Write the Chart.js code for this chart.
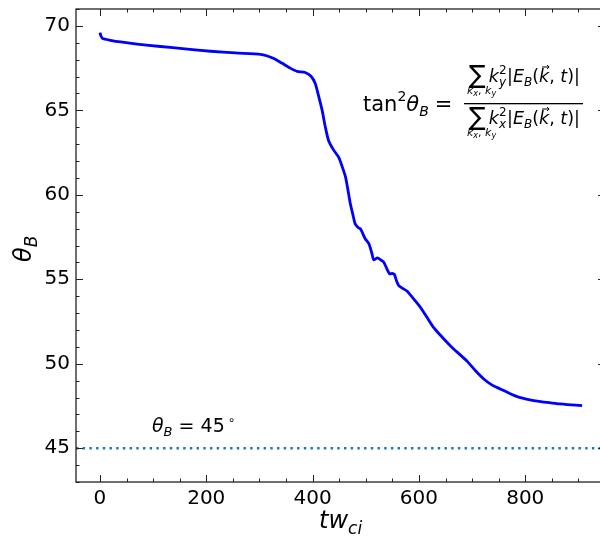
<!DOCTYPE html>
<html>
<head>
<meta charset="utf-8">
<script src="https://cdn.jsdelivr.net/npm/chart.js@4.4.1/dist/chart.umd.min.js"></script>
<style>
  html, body { margin: 0; padding: 0; background: #fff; overflow: hidden; }
  #wrap { width: 610px; height: 538px; position: relative; }
</style>
</head>
<body>
<div id="wrap"><canvas id="theta" width="610" height="538"></canvas></div>
<script>
// time axis (t w_ci) and magnetic angle theta_B in degrees
const times = [0, 2, 5, 20, 39, 70, 114, 160, 208, 255, 302, 315, 327, 342, 358, 371, 386, 397,
  405, 411, 418, 424, 430, 440, 449, 456, 462, 467, 471, 476, 480, 486, 490, 499, 506, 511, 515,
  522, 528, 534, 540, 545, 550, 554, 558, 562, 570, 578, 590, 600, 609, 625, 640, 659, 675, 691,
  706, 722, 737, 753, 770, 785, 800, 816, 832, 848, 865, 879, 895, 907]
const thetaB = [69.6, 69.4, 69.25, 69.15, 69.05, 68.92, 68.78, 68.64, 68.5, 68.4, 68.32, 68.22,
  68.07, 67.8, 67.5, 67.31, 67.24, 67.02, 66.59, 65.89, 65.0, 64.01, 63.22, 62.63, 62.23, 61.64,
  61.05, 60.2, 59.47, 58.8, 58.29, 58.05, 57.99, 57.4, 57.1, 56.6, 56.15, 56.27, 56.15, 56.01,
  55.6, 55.32, 55.35, 55.28, 54.9, 54.63, 54.45, 54.29, 53.84, 53.45, 53.05, 52.26, 51.7, 51.07,
  50.6, 50.14, 49.6, 49.1, 48.75, 48.51, 48.25, 48.05, 47.92, 47.81, 47.74, 47.69, 47.62, 47.58,
  47.55, 47.52]
const refAngle = 45
const xTicks = [0, 200, 400, 600, 800]
const yTicks = [45, 50, 55, 60, 65, 70]
const xMinor = 50
const yMinor = 1

const FONT = "'DejaVu Sans', sans-serif"

function runs(ctx, x, y, parts) {
  // draw a row of text pieces: [text, size, italic, dy]
  parts.forEach(p => {
    ctx.font = (p[2] ? 'italic ' : '') + p[1] + 'px ' + FONT
    ctx.fillText(p[0], x, y + (p[3] || 0))
    x += ctx.measureText(p[0]).width
  })
  return x
}

function sumTerm(ctx, x, base, axis) {
  // sum sign with k_x, k_y limits under it, then k^2 |E_B(k, t)|
  ctx.font = '25px ' + FONT
  ctx.fillText('\u2211', x, base + 1)
  const sw = ctx.measureText('\u2211').width
  runs(ctx, x - 2, base + 12, [['k', 11, true], ['x', 8, true, 2], [', ', 11], ['k', 11, true], ['y', 8, true, 2]])
  let cx = x + sw + 3
  cx = runs(ctx, cx, base, [['k', 17.5, true]])
  runs(ctx, cx, base - 8, [['2', 12]])
  cx = runs(ctx, cx, base + 4, [[axis, 12, true]]) + 1
  cx = runs(ctx, cx, base, [['|', 17.5], ['E', 17.5, true]])
  cx = runs(ctx, cx, base + 4, [['B', 12, true]])
  cx = runs(ctx, cx, base, [['(', 17.5]])
  const kx = cx
  cx = runs(ctx, cx, base, [['k', 17.5, true]])
  // vector arrow over k
  ctx.beginPath()
  ctx.lineWidth = 1
  ctx.moveTo(kx + 3, base - 15); ctx.lineTo(kx + 10, base - 15)
  ctx.moveTo(kx + 8, base - 17); ctx.lineTo(kx + 10, base - 15); ctx.lineTo(kx + 8, base - 13)
  ctx.stroke()
  runs(ctx, cx, base, [[', ', 17.5], ['t', 17.5, true], [')|', 17.5]])
}

const decor = {
  id: 'decor',
  afterDraw(chart) {
    const ctx = chart.ctx
    const a = chart.chartArea
    const xs = chart.scales.x, ys = chart.scales.y
    ctx.save()
    ctx.strokeStyle = '#222'
    ctx.lineWidth = 1.3
    ctx.strokeRect(a.left, a.top, a.right - a.left, a.bottom - a.top)

    // inward ticks on all four sides
    ctx.lineWidth = 1
    ctx.beginPath()
    for (let v = Math.ceil(xs.min / xMinor) * xMinor; v <= xs.max; v += xMinor) {
      const px = Math.round(xs.getPixelForValue(v)) + 0.5
      const len = v % 200 === 0 ? 7 : 3.5
      ctx.moveTo(px, a.bottom); ctx.lineTo(px, a.bottom - len)
      ctx.moveTo(px, a.top); ctx.lineTo(px, a.top + len)
    }
    for (let v = Math.ceil(ys.min); v <= ys.max; v += yMinor) {
      const py = Math.round(ys.getPixelForValue(v)) + 0.5
      const len = v % 5 === 0 ? 7 : 3.5
      ctx.moveTo(a.left, py); ctx.lineTo(a.left + len, py)
      ctx.moveTo(a.right, py); ctx.lineTo(a.right - len, py)
    }
    ctx.stroke()

    ctx.fillStyle = '#000'
    ctx.strokeStyle = '#000'
    ctx.textBaseline = 'alphabetic'

    // axis titles
    runs(ctx, 319, 528, [['tw', 24, true], ['ci', 17, true, 6]])
    ctx.save()
    ctx.translate(31, 262)
    ctx.rotate(-Math.PI / 2)
    runs(ctx, 0, 0, [['\u03b8', 24, true], ['B', 17, true, 6]])
    ctx.restore()

    // reference line label
    let lx = runs(ctx, 152, 432, [['\u03b8', 19, true], ['B', 13, true, 4], [' = 45', 19]])
    runs(ctx, lx + 3, 424, [['\u2218', 12]])

    // tan^2 theta_B formula
    let fx = runs(ctx, 363, 111, [['tan', 21]])
    fx = runs(ctx, fx, 101, [['2', 14]])
    fx = runs(ctx, fx, 111, [['\u03b8', 21, true]])
    fx = runs(ctx, fx, 116, [['B', 14, true]])
    ctx.font = '21px ' + FONT
    ctx.fillText('=', fx + 6, 111)
    ctx.fillRect(464, 103, 119, 1.3)
    sumTerm(ctx, 469, 82, 'y')
    sumTerm(ctx, 469, 124, 'x')
    ctx.restore()
  }
}

// drop the automatic label overhang so the plot box sits where the afterFit sizes put it
function noPad(s) {
  s.paddingTop = 0; s.paddingBottom = 0; s.paddingLeft = 0; s.paddingRight = 0
}

new Chart(document.getElementById('theta'), {
  type: 'line',
  data: {
    datasets: [{
      data: times.map((t, i) => ({ x: t, y: thetaB[i] })),
      borderColor: '#0000ff',
      borderWidth: 2.8,
      pointRadius: 0,
      tension: 0.2
    }, {
      data: [{ x: -45, y: refAngle }, { x: 950, y: refAngle }],
      borderColor: '#1f77b4',
      borderWidth: 2.4,
      borderDash: [2.4, 4.3],
      borderCapStyle: 'butt',
      pointRadius: 0
    }]
  },
  options: {
    responsive: false,
    animation: false,
    devicePixelRatio: 1,
    // canvas is wider than the window, so the right edge of the plot box falls outside
    layout: { padding: { top: 9, right: 5, left: 0, bottom: 0 } },
    plugins: { legend: { display: false }, tooltip: { enabled: false } },
    scales: {
      x: {
        type: 'linear', min: -45, max: 950,
        grid: { display: false, drawTicks: false }, border: { display: false },
        afterBuildTicks: s => { s.ticks = xTicks.map(v => ({ value: v })) },
        afterFit: s => { s.height = 56; noPad(s) },
        ticks: { color: '#000', font: { family: FONT, size: 20 }, padding: 5, maxRotation: 0, autoSkip: false }
      },
      y: {
        min: 43, max: 71,
        grid: { display: false, drawTicks: false }, border: { display: false },
        afterBuildTicks: s => { s.ticks = yTicks.map(v => ({ value: v })) },
        afterFit: s => { s.width = 76; noPad(s) },
        ticks: { color: '#000', font: { family: FONT, size: 20 }, padding: 6, autoSkip: false }
      }
    }
  },
  plugins: [decor]
})
</script>
</body>
</html>
